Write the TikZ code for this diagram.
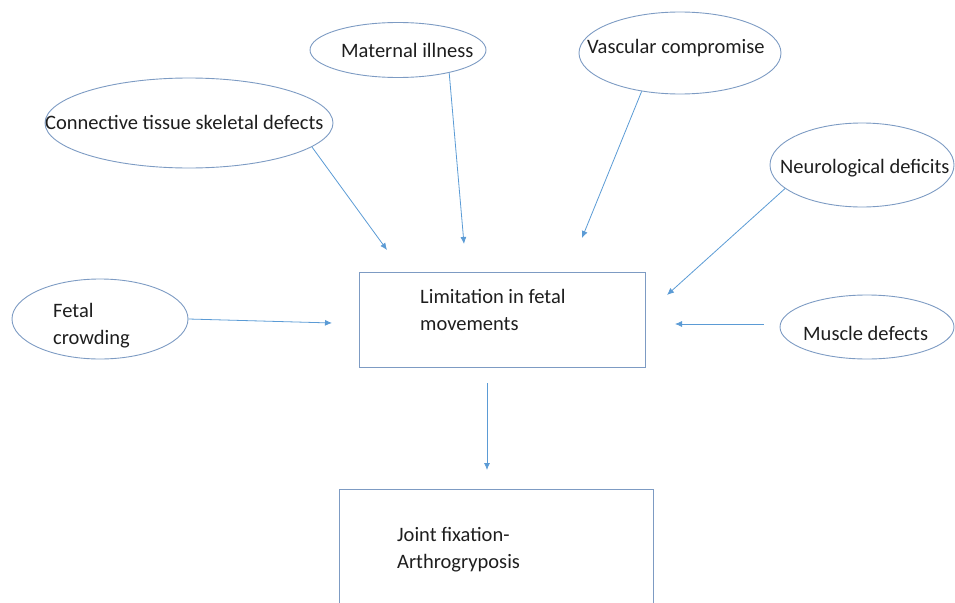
\documentclass[tikz,border=0pt]{standalone}
\usepackage{fontspec}
\setmainfont{Carlito}
\usetikzlibrary{shapes.geometric,arrows.meta}
\definecolor{edge}{RGB}{125,155,195}
\definecolor{arr}{RGB}{91,155,213}
\definecolor{txt}{RGB}{30,30,30}
\begin{document}
\begin{tikzpicture}[x=1pt,y=-1pt,
  oval/.style={ellipse,draw=edge,line width=0.9pt,inner sep=0pt},
  boxnode/.style={rectangle,draw=edge,line width=0.9pt,inner sep=0pt},
  lbl/.style={anchor=west,inner sep=0pt,text=txt,font=\fontsize{20.5}{27}\selectfont,align=left},
  conn/.style={draw=arr,line width=0.8pt,-{Latex[length=7pt,width=6pt]}}]
\useasboundingbox (0,0) rectangle (955,602);
% shapes
\node[oval,minimum width=176pt,minimum height=55pt] (mi) at (398,50) {};
\node[oval,minimum width=202pt,minimum height=82pt] (vc) at (680,53) {};
\node[oval,minimum width=288pt,minimum height=90pt] (ct) at (189,123) {};
\node[oval,minimum width=184pt,minimum height=84pt] (nd) at (862,165) {};
\node[oval,minimum width=176pt,minimum height=80pt] (fc) at (100,319) {};
\node[oval,minimum width=174pt,minimum height=64pt] (md) at (867,327) {};
\node[boxnode,minimum width=286pt,minimum height=95pt] (lim) at (502,319.5) {};
\node[boxnode,minimum width=314pt,minimum height=131pt] (jf) at (496,554.5) {};
% labels
\node[lbl] (tmi) at (341,50) {Maternal illness};
\node[lbl] (tvc) at (587,48) {Vascular compromise};
\node[lbl] (tct) at (45,122) {Connective tissue skeletal defects};
\node[lbl] (tnd) at (780,168) {Neurological deficits};
\node[lbl] (tfc) at (53,326) {Fetal\\crowding};
\node[lbl] (tmd) at (803,333) {Muscle defects};
\node[lbl] (tlim) at (420,310) {Limitation in fetal\\movements};
\node[lbl] (tjf) at (397,550) {Joint fixation-\\Arthrogryposis};
% arrow ends
\coordinate (e1) at (387,250);
\coordinate (e2) at (464,244);
\coordinate (e3) at (582,238);
\coordinate (e4) at (667,295);
\coordinate (e5) at (332,323);
\coordinate (e6) at (675,324);
\coordinate (e7) at (487,470);
% connectors
\draw[conn] (ct.-11) -- (e1);
\draw[conn] (mi.-24) -- (e2);
\draw[conn] (vc.-135) -- (e3);
\draw[conn] (nd.-163) -- (e4);
\draw[conn] (fc.east) -- (e5);
\draw[conn,shorten <=16pt] ([yshift=3pt]md.west) -- (e6);
\draw[conn] ([xshift=-15pt,yshift=-16pt]lim.south) -- (e7);
\end{tikzpicture}
\end{document}
